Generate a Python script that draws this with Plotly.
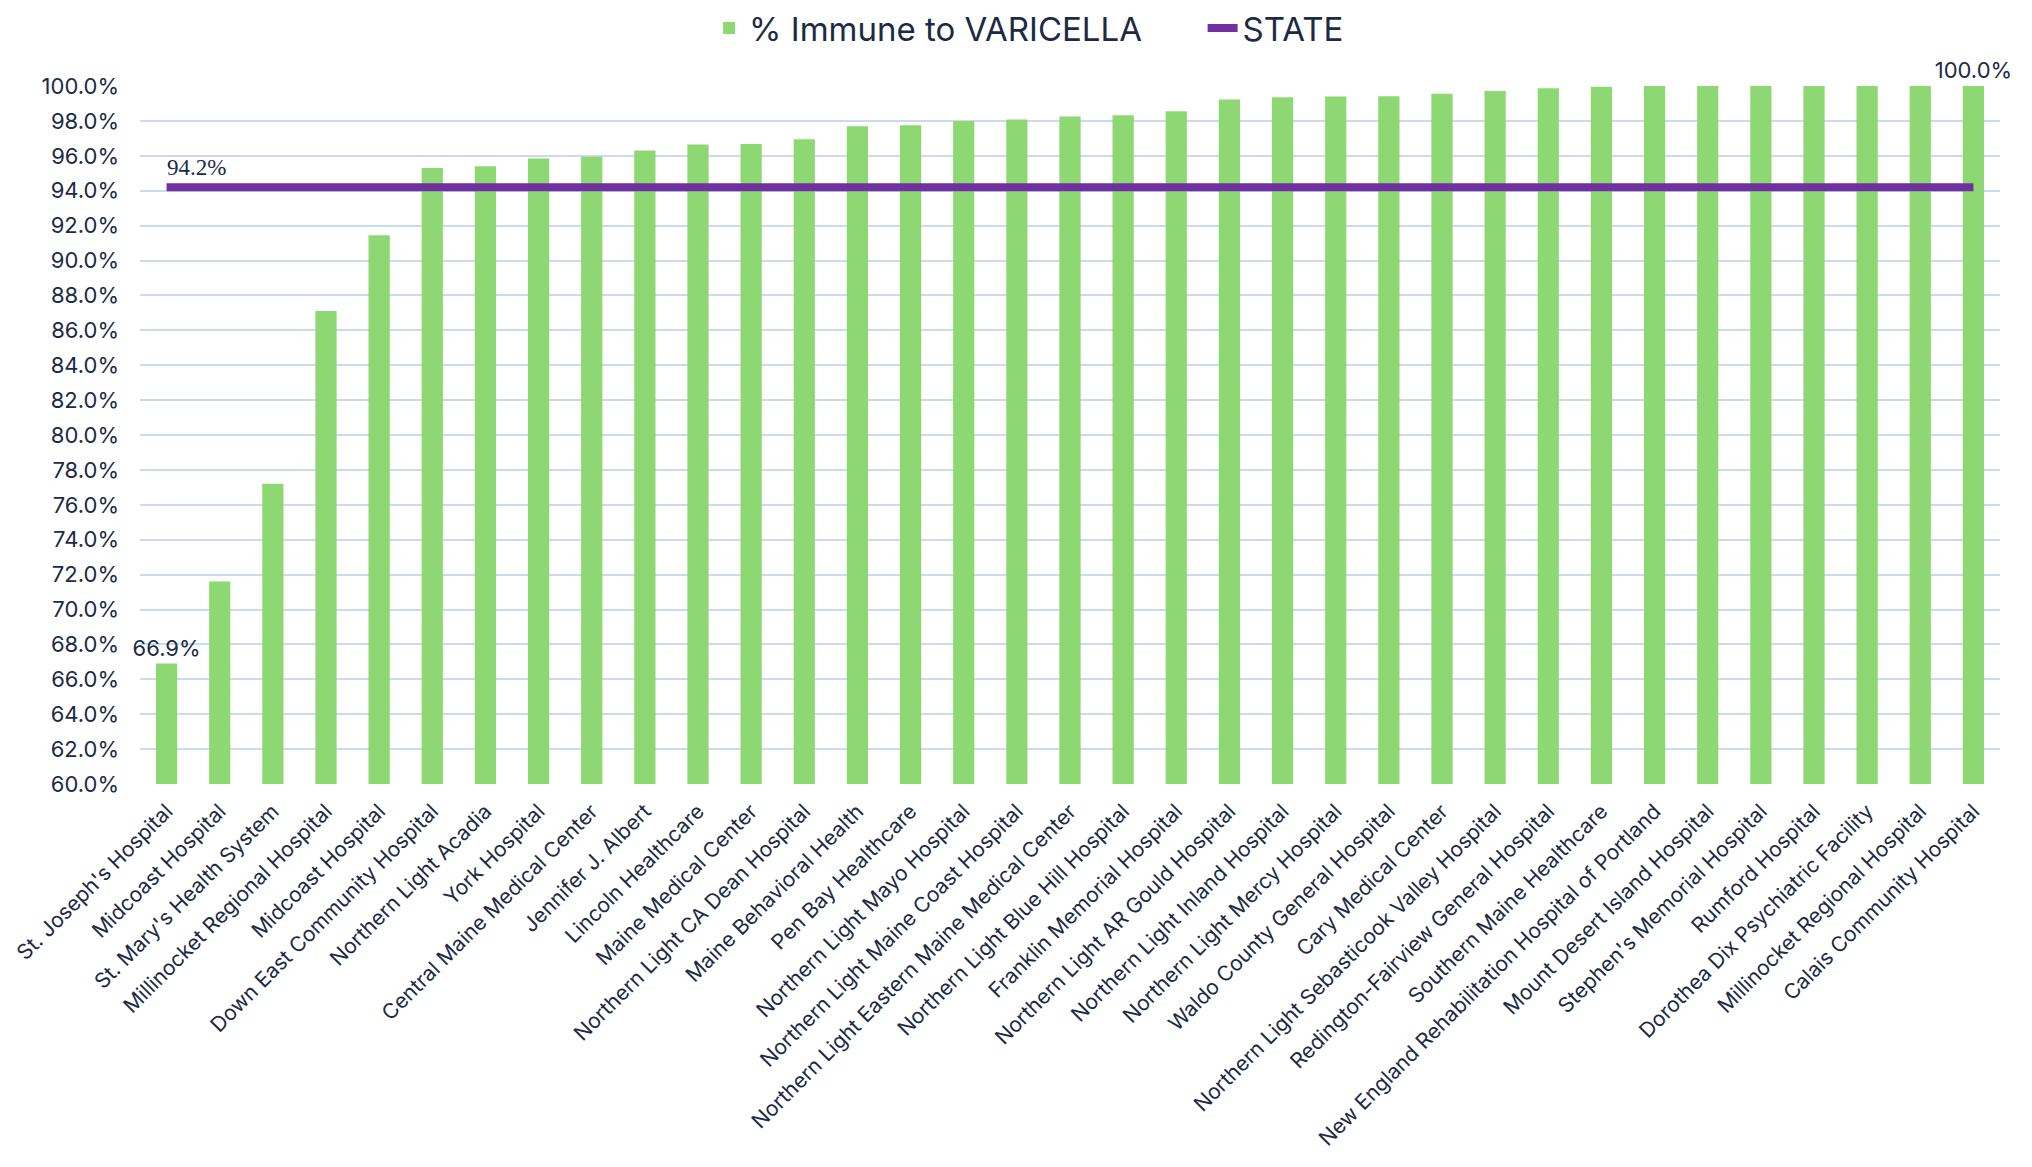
import plotly.graph_objects as go

hospitals = [
    "St. Joseph's Hospital", "Midcoast Hospital", "St. Mary's Health System",
    "Millinocket Regional Hospital", "Midcoast Hospital", "Down East Community Hospital",
    "Northern Light Acadia", "York Hospital", "Central Maine Medical Center",
    "Jennifer J. Albert", "Lincoln Healthcare", "Maine Medical Center",
    "Northern Light CA Dean Hospital", "Maine Behavioral Health", "Pen Bay Healthcare",
    "Northern Light Mayo Hospital", "Northern Light Maine Coast Hospital",
    "Northern Light Eastern Maine Medical Center", "Northern Light Blue Hill Hospital",
    "Franklin Memorial Hospital", "Northern Light AR Gould Hospital",
    "Northern Light Inland Hospital", "Northern Light Mercy Hospital",
    "Waldo County General Hospital", "Cary Medical Center",
    "Northern Light Sebasticook Valley Hospital", "Redington-Fairview General Hospital",
    "Southern Maine Healthcare", "New England Rehabilitation Hospital of Portland",
    "Mount Desert Island Hospital", "Stephen's Memorial Hospital", "Rumford Hospital",
    "Dorothea Dix Psychiatric Facility", "Millinocket Regional Hospital",
    "Calais Community Hospital",
]
immune_pct = [
    66.9, 71.6, 77.2, 87.1, 91.45, 95.3, 95.4, 95.85, 95.95, 96.3,
    96.65, 96.68, 96.95, 97.7, 97.75, 98.0, 98.08, 98.25, 98.33, 98.55,
    99.22, 99.35, 99.4, 99.41, 99.56, 99.71, 99.87, 99.95, 100.0, 100.0,
    100.0, 100.0, 100.0, 100.0, 100.0,
]
state_pct = 94.2
y_ticks = [60 + 2 * i for i in range(21)]

n = len(hospitals)
xs = list(range(n))
bar_text = [f"{v:.1f}%" if i in (0, n - 1) else "" for i, v in enumerate(immune_pct)]

TXT = "#1B2B45"
FONT = "Inter"
GAP = "\u00a0" * 6

fig = go.Figure()
fig.add_trace(go.Bar(
    x=xs, y=[v - 60 for v in immune_pct], base=60, width=0.4,
    name="% Immune to VARICELLA" + GAP,
    marker=dict(color="#8ED873", line=dict(width=0)),
    text=bar_text, textposition="outside", constraintext="none",
    outsidetextfont=dict(family=FONT, size=22, color=TXT),
    cliponaxis=False,
))
fig.add_trace(go.Scatter(
    x=[xs[0], xs[-1]], y=[state_pct, state_pct], mode="lines", name="STATE",
    line=dict(color="#7030A0", width=8), cliponaxis=False,
))
fig.add_annotation(
    x=xs[0], y=state_pct, text=f"{state_pct:.1f}%", showarrow=False,
    xanchor="left", yanchor="bottom", xshift=-2, yshift=5,
    font=dict(family="Liberation Serif", size=23, color=TXT),
)

fig.update_layout(
    width=2024, height=1159,
    margin=dict(l=132, r=32, t=78, b=383, autoexpand=False),
    plot_bgcolor="white", paper_bgcolor="white",
    font=dict(family=FONT, color=TXT),
    showlegend=True,
    legend=dict(
        orientation="h", x=0.478, xanchor="center", y=1.083, yanchor="middle",
        font=dict(family=FONT, size=33, color=TXT),
        traceorder="normal",
    ),
    bargap=0.6,
)
fig.update_xaxes(
    range=[-0.5, n - 0.5], tickvals=xs, ticktext=hospitals, tickangle=-45,
    tickfont=dict(family=FONT, size=21, color=TXT),
    showgrid=False, zeroline=False, showline=False, ticks="",
    ticklabelstandoff=10, automargin=False,
)
fig.update_yaxes(
    range=[60, 100], tickvals=y_ticks,
    ticktext=[f"{t:.1f}%" for t in y_ticks],
    tickfont=dict(family=FONT, size=22, color=TXT),
    showgrid=True, gridcolor="#C9DBF1", gridwidth=2,
    zeroline=False, showline=False, ticks="", ticklabelstandoff=20,
    automargin=False,
)

fig.write_html("out.html")
